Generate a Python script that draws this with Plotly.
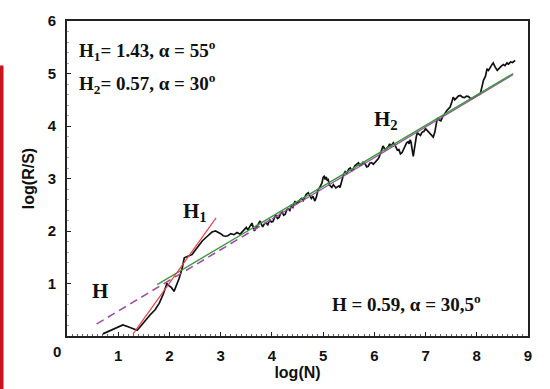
import numpy as np
import plotly.graph_objects as go

# ---- data ----
log_n = [0.70, 0.85, 1.00, 1.09, 1.18, 1.27, 1.37, 1.45, 1.55, 1.62, 1.72, 1.80, 1.88, 1.95,
         1.99, 2.04, 2.09, 2.14, 2.19, 2.25, 2.29, 2.36, 2.44, 2.54, 2.64, 2.74, 2.83, 2.90,
         2.95, 3.00, 3.05, 3.10, 3.14, 3.20, 3.26, 3.32, 3.38, 3.44,
         3.50, 3.53, 3.55, 3.58, 3.61, 3.64, 3.66, 3.69, 3.71, 3.74, 3.77, 3.80, 3.82, 3.85,
         3.88, 3.92, 3.96, 3.99, 4.02, 4.05, 4.08, 4.11, 4.14, 4.17, 4.20, 4.23, 4.26, 4.29,
         4.32, 4.35, 4.38, 4.41, 4.45, 4.48, 4.52, 4.55, 4.58, 4.61, 4.64, 4.67, 4.71, 4.74,
         4.77, 4.80, 4.84, 4.87, 4.90, 4.94, 4.98, 5.00, 5.02, 5.04, 5.06, 5.08, 5.10, 5.12,
         5.14, 5.17, 5.20, 5.22, 5.25, 5.28, 5.31, 5.33, 5.36, 5.38, 5.40, 5.43, 5.46, 5.50,
         5.53, 5.56, 5.59, 5.62, 5.65, 5.69, 5.72, 5.75, 5.78, 5.82, 5.85, 5.88, 5.91, 5.95,
         5.98, 6.02, 6.05, 6.08, 6.11, 6.14, 6.17, 6.21, 6.24, 6.27, 6.30, 6.32, 6.35, 6.37,
         6.40, 6.42, 6.45, 6.48, 6.51, 6.54, 6.57, 6.60, 6.63, 6.66, 6.68, 6.70, 6.72, 6.73,
         6.75, 6.76, 6.78, 6.80, 6.82, 6.84, 6.87, 6.90, 6.93, 6.97, 7.00, 7.03, 7.06, 7.09,
         7.12, 7.15, 7.18, 7.20, 7.23, 7.26, 7.30, 7.33, 7.36, 7.39, 7.42, 7.45, 7.48, 7.51,
         7.54, 7.57, 7.60, 7.64, 7.68, 7.72, 7.76, 7.80, 7.84, 7.88, 7.92, 7.96, 8.00, 8.04,
         8.07, 8.10, 8.13, 8.17, 8.20, 8.23, 8.26, 8.29, 8.32, 8.34, 8.36, 8.40, 8.43, 8.46,
         8.49, 8.52, 8.55, 8.59, 8.62, 8.66, 8.70, 8.75]
log_rs = [0.04, 0.10, 0.17, 0.21, 0.18, 0.15, 0.11, 0.20, 0.32, 0.40, 0.50, 0.62, 0.80, 1.00,
          0.96, 0.92, 0.85, 0.96, 1.10, 1.30, 1.49, 1.52, 1.55, 1.68, 1.81, 1.90, 1.98, 2.00,
          1.98, 1.95, 1.91, 1.90, 1.91, 1.95, 1.93, 1.97, 1.94, 2.00,
          2.07, 2.02, 2.05, 2.10, 2.15, 2.06, 2.00, 2.06, 2.10, 2.14, 2.19, 2.12, 2.08, 2.13,
          2.16, 2.12, 2.22, 2.17, 2.18, 2.25, 2.30, 2.24, 2.26, 2.33, 2.36, 2.30, 2.32, 2.40,
          2.42, 2.39, 2.48, 2.45, 2.57, 2.52, 2.55, 2.60, 2.62, 2.58, 2.66, 2.70, 2.73, 2.68,
          2.62, 2.66, 2.57, 2.65, 2.78, 2.84, 2.92, 3.02, 3.04, 2.98, 3.03, 2.97, 2.98, 2.88,
          2.86, 2.83, 2.88, 2.86, 2.82, 2.84, 2.86, 2.83, 2.95, 3.02, 3.08, 3.13, 3.10, 3.18,
          3.20, 3.15, 3.18, 3.24, 3.27, 3.30, 3.25, 3.26, 3.31, 3.28, 3.22, 3.23, 3.29, 3.30,
          3.27, 3.32, 3.36, 3.38, 3.45, 3.52, 3.62, 3.55, 3.58, 3.60, 3.66, 3.62, 3.65, 3.68,
          3.64, 3.60, 3.54, 3.55, 3.47, 3.49, 3.56, 3.62, 3.68, 3.70, 3.66, 3.74, 3.68, 3.60,
          3.48, 3.42, 3.55, 3.70, 3.80, 3.87, 3.84, 3.82, 3.88, 3.90, 3.95, 3.92, 3.88, 3.85,
          3.83, 3.79, 3.88, 4.02, 4.15, 4.12, 4.10, 4.17, 4.22, 4.26, 4.30, 4.33, 4.36, 4.45,
          4.55, 4.50, 4.53, 4.57, 4.58, 4.55, 4.54, 4.57, 4.56, 4.52, 4.53, 4.56, 4.58, 4.60,
          4.62, 4.74, 4.87, 4.95, 5.09, 5.06, 5.12, 5.16, 5.20, 5.14, 5.12, 5.06, 5.10, 5.12,
          5.15, 5.17, 5.15, 5.20, 5.18, 5.22, 5.21, 5.25]

# fitted lines (end points)
h1_x = [1.29, 2.91]
h1_y = [0.04, 2.25]
h2_x = [1.76, 8.71]
h2_y = [0.98, 5.00]
h_x = [0.58, 8.71]
h_y = [0.23, 4.98]
h_dash_end = 4.0

x_ticks = [1, 2, 3, 4, 5, 6, 7, 8, 9]
y_ticks = [1, 2, 3, 4, 5, 6]

# ---- figure ----
fig = go.Figure()

fig.add_trace(go.Scatter(x=log_n, y=log_rs, mode="lines",
                         line=dict(color="#111111", width=1.7), showlegend=False))

hx_dash = [h_x[0], h_dash_end]
hx_solid = [h_dash_end, h_x[1]]
fig.add_trace(go.Scatter(x=hx_dash, y=list(np.interp(hx_dash, h_x, h_y)), mode="lines",
                         line=dict(color="#9b4fa8", width=1.6, dash="8px,5px"),
                         showlegend=False))
fig.add_trace(go.Scatter(x=hx_solid, y=list(np.interp(hx_solid, h_x, h_y)), mode="lines",
                         line=dict(color="#9b4fa8", width=1.3), showlegend=False))
fig.add_trace(go.Scatter(x=h2_x, y=h2_y, mode="lines",
                         line=dict(color="#3f9a3f", width=1.4), showlegend=False))
fig.add_trace(go.Scatter(x=h1_x, y=h1_y, mode="lines",
                         line=dict(color="#e8404a", width=1.2), showlegend=False))

serif = dict(family="Liberation Serif, Times New Roman, serif", size=19,
             color="#111111", weight="bold")
serif_big = dict(family="Liberation Serif, Times New Roman, serif", size=21,
                 color="#111111", weight="bold")

annos = [
    dict(x=0.022, y=0.905, xref="paper", yref="paper", xanchor="left", yanchor="middle",
         text="H<sub>1</sub>= 1.43, α = 55<sup>o</sup>", showarrow=False, font=serif),
    dict(x=0.022, y=0.80, xref="paper", yref="paper", xanchor="left", yanchor="middle",
         text="H<sub>2</sub>= 0.57, α = 30<sup>o</sup>", showarrow=False, font=serif),
    dict(x=0.571, y=0.104, xref="paper", yref="paper", xanchor="left", yanchor="middle",
         text="H = 0.59, α = 30,5<sup>o</sup>", showarrow=False, font=serif),
    dict(x=0.64, y=0.85, xref="x", yref="y", xanchor="center", yanchor="middle",
         text="H", showarrow=False, font=serif_big),
    dict(x=2.22, y=2.36, xref="x", yref="y", xanchor="left", yanchor="middle",
         text="H<sub>1</sub>", showarrow=False, font=serif_big),
    dict(x=5.95, y=4.12, xref="x", yref="y", xanchor="left", yanchor="middle",
         text="H<sub>2</sub>", showarrow=False, font=serif_big),
    dict(x=-0.022, y=-0.048, xref="paper", yref="paper", xanchor="center", yanchor="middle",
         text="0", showarrow=False,
         font=dict(family="Liberation Sans, Arial, sans-serif", size=15,
                   color="#111111", weight="bold")),
]

sans_bold = dict(family="Liberation Sans, Arial, sans-serif", size=15,
                 color="#111111", weight="bold")

fig.update_layout(
    width=550, height=389,
    margin=dict(l=67, r=22, t=20, b=51),
    paper_bgcolor="white", plot_bgcolor="white",
    annotations=annos,
    shapes=[dict(type="rect", xref="paper", yref="paper",
                 x0=-67 / 461, x1=-63.5 / 461, y0=(338 - 400) / 318, y1=(338 - 65) / 318,
                 fillcolor="#c8141c", line=dict(width=0), layer="above")],
)

fig.update_xaxes(
    range=[0, 9], tickvals=x_ticks, ticktext=[str(v) for v in x_ticks],
    showgrid=False, zeroline=False,
    showline=True, linecolor="#222222", linewidth=1.6, mirror=True,
    ticks="inside", ticklen=4, tickcolor="#222222", tickwidth=1.2,
    minor=dict(ticks="inside", ticklen=2, dtick=0.1, tickcolor="#666666", tickwidth=1),
    tickfont=sans_bold, ticklabelstandoff=5,
    title=dict(text="log(N)", font=dict(family="Liberation Sans, Arial, sans-serif",
                                        size=16, color="#111111", weight="bold"),
               standoff=2),
)
fig.update_yaxes(
    range=[0, 6], tickvals=y_ticks, ticktext=[str(v) for v in y_ticks],
    showgrid=False, zeroline=False,
    showline=True, linecolor="#222222", linewidth=1.6, mirror=True,
    ticks="inside", ticklen=4, tickcolor="#222222", tickwidth=1.2,
    minor=dict(ticks="inside", ticklen=2, dtick=0.2, tickcolor="#aaaaaa", tickwidth=1),
    tickfont=sans_bold, ticklabelstandoff=6,
    title=dict(text="log(R/S)", font=dict(family="Liberation Sans, Arial, sans-serif",
                                          size=16, color="#111111", weight="bold"),
               standoff=9),
)

fig.write_html("out.html")
